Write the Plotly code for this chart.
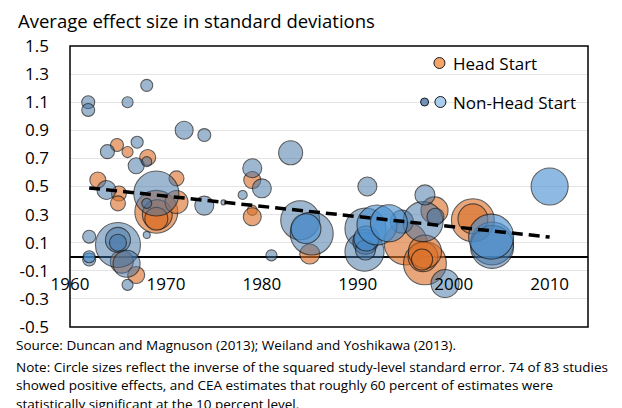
import plotly.graph_objects as go

# Head Start studies: year, average effect size (SD), relative weight (~ 1/SE^2)
hs_year = [1964.9, 1966.0, 1968.1, 1962.9, 1971.1, 1965.1, 1965.0, 1969.0, 1969.1, 1969.0,
           1971.1, 1979.0, 1979.0, 1979.0, 1985.0, 1965.4, 1966.9, 1995.0, 1997.0, 1996.8,
           1997.0, 1996.7, 1998.0, 2002.0, 2002.0]
hs_effect = [0.795, 0.745, 0.707, 0.546, 0.558, 0.45, 0.38, 0.32, 0.30, 0.27,
             0.39, 0.546, 0.33, 0.285, 0.02, -0.035, -0.13, 0.095, -0.047, 0.0,
             0.036, -0.02, 0.33, 0.26, 0.27]
hs_weight = [8.3, 6, 12.6, 12.6, 11.1, 11.1, 11.1, 91, 44, 26,
             26, 14.3, 4.9, 16, 19.8, 26, 14.3, 91, 91, 44,
             54, 22, 36, 91, 44]

# Non-Head Start studies (darker shade)
nhs_year = [1968.0, 1961.9, 1961.9, 1966.0, 1971.9, 1974.0, 1963.9, 1967.0, 1966.9, 1968.0,
            1963.8, 1969.0, 1968.0, 1968.0, 1974.0, 1976.0, 1979.0, 1980.0, 1978.0, 1981.0,
            1983.0, 1984.0, 1985.2, 1962.0, 1962.0, 1965.0, 1965.0, 1965.0, 1965.9, 1966.0,
            1991.0, 1990.8, 1990.7, 1990.8, 1990.8, 1994.6, 1996.8, 1997.0, 1998.1, 1999.1,
            2004.0, 2004.0]
nhs_effect = [1.22, 1.10, 1.045, 1.10, 0.90, 0.866, 0.748, 0.815, 0.648, 0.677,
              0.475, 0.45, 0.38, 0.155, 0.364, 0.387, 0.63, 0.487, 0.44, 0.01,
              0.74, 0.26, 0.165, 0.143, -0.02, 0.084, 0.12, 0.10, -0.05, -0.2,
              0.50, 0.20, 0.036, 0.107, 0.048, 0.25, 0.25, 0.44, 0.285, -0.19,
              0.095, 0.07]
nhs_weight = [7.1, 8.3, 8.3, 6, 16, 8.3, 9.7, 7.1, 12.6, 4.9,
              17.8, 100, 4.9, 2.4, 17.8, 1.2, 17.8, 17.8, 4, 6,
              28.4, 75, 91, 8.3, 8.3, 100, 31, 14.3, 36, 6,
              17.8, 83, 75, 31, 19.8, 26, 79, 19.8, 14.3, 38.7,
              91, 91]

# Non-Head Start studies (lighter shade)
nhs2_year = [1962.0, 1984.6, 1990.9, 1992.0, 1993.25, 2003.9, 2010.0]
nhs2_effect = [0.0, 0.2, 0.13, 0.226, 0.238, 0.143, 0.50]
nhs2_weight = [7.1, 44, 31, 79, 67.6, 100, 67.6]

# fitted trend
trend_year = [1962, 2010]
trend_effect = [0.49, 0.14]

y_ticks = [1.5, 1.3, 1.1, 0.9, 0.7, 0.5, 0.3, 0.1, -0.1, -0.3, -0.5]
y_tick_labels = ["1.5", "1.3", "1.1", "0.9", "0.7", "0.5", "0.3", "0.1", "-0.1", "-0.3", "-0.5"]
x_ticks = [1960, 1970, 1980, 1990, 2000, 2010]

title = "Average effect size in standard deviations"
notes = [
    "Source: Duncan and Magnuson (2013); Weiland and Yoshikawa (2013).",
    "Note: Circle sizes reflect the inverse of the squared study-level standard error. 74 of 83 studies",
    "showed positive effects, and CEA estimates that roughly 60 percent of estimates were",
    "statistically significant at the 10 percent level.",
]

FONT = "Open Sans"
max_w = max(hs_weight + nhs_weight + nhs2_weight)
sizeref = 2.0 * max_w / 45 ** 2


def bubbles(x, y, w, color, name):
    return go.Scatter(
        x=x, y=y, mode="markers", name=name, showlegend=False,
        marker=dict(size=w, sizemode="area", sizeref=sizeref, color=color,
                    line=dict(color="#1a1a1a", width=1.1)),
    )


fig = go.Figure()
fig.add_trace(bubbles(hs_year, hs_effect, hs_weight, "rgba(220,115,45,0.9)", "Head Start"))
fig.add_trace(bubbles(nhs_year, nhs_effect, nhs_weight, "rgba(65,115,165,0.72)", "Non-Head Start"))
fig.add_trace(bubbles(nhs2_year, nhs2_effect, nhs2_weight, "rgba(75,145,210,0.9)", "Non-Head Start"))
fig.add_trace(go.Scatter(x=trend_year, y=trend_effect, mode="lines", showlegend=False,
                         line=dict(color="black", width=3.5, dash="11px,6px")))

# page body adds an 8px offset, so the figure is 8px smaller than the window
fig.update_layout(
    width=614, height=400,
    margin=dict(l=57, r=34, t=38, b=81),
    paper_bgcolor="white", plot_bgcolor="white",
    font=dict(family=FONT, size=17, color="black"),
    xaxis=dict(range=[1960, 2014], tickvals=x_ticks, showgrid=False, zeroline=False,
               showline=False, anchor="free", position=0.25, ticks="",
               ticklabelstandoff=15, tickfont=dict(size=17)),
    yaxis=dict(range=[-0.5, 1.5], tickvals=y_ticks, ticktext=y_tick_labels,
               showgrid=True, gridcolor="#e4e4e4", gridwidth=1,
               zeroline=True, zerolinecolor="black", zerolinewidth=1.5,
               showline=False, ticks="", ticklabelstandoff=20, tickfont=dict(size=17)),
)

# plot frame
fig.add_shape(type="rect", xref="paper", yref="paper", x0=0, x1=1, y0=0, y1=1,
              line=dict(color="black", width=1.5), layer="above")


# legend drawn by hand (two swatches for Non-Head Start)
def swatch(cx, cy, r, color):
    fig.add_shape(type="circle", xref="paper", yref="paper",
                  xsizemode="pixel", ysizemode="pixel", xanchor=cx, yanchor=cy,
                  x0=-r, x1=r, y0=-r, y1=r, fillcolor=color,
                  line=dict(color="#1a1a1a", width=1), layer="above")


swatch(0.7132, 0.9395, 5.5, "#F2A469")
swatch(0.6845, 0.8007, 4, "#6F93B5")
swatch(0.7151, 0.8007, 5.5, "#A9CDEC")
fig.add_annotation(x=0.736, y=0.9395, xref="paper", yref="paper", text="Head Start",
                   showarrow=False, xanchor="left", yanchor="middle", font=dict(size=17))
fig.add_annotation(x=0.736, y=0.8007, xref="paper", yref="paper", text="Non-Head Start",
                   showarrow=False, xanchor="left", yanchor="middle", font=dict(size=17))

fig.add_annotation(x=-0.1052, y=1.0925, xref="paper", yref="paper", text=title,
                   showarrow=False, xanchor="left", yanchor="middle", font=dict(size=18.5))

for txt, yy in zip(notes, [-0.0641, -0.1423, -0.2064, -0.274]):
    fig.add_annotation(x=-0.109, y=yy, xref="paper", yref="paper", text=txt,
                       showarrow=False, xanchor="left", yanchor="middle",
                       font=dict(size=13.5))

fig.write_html("out.html")
